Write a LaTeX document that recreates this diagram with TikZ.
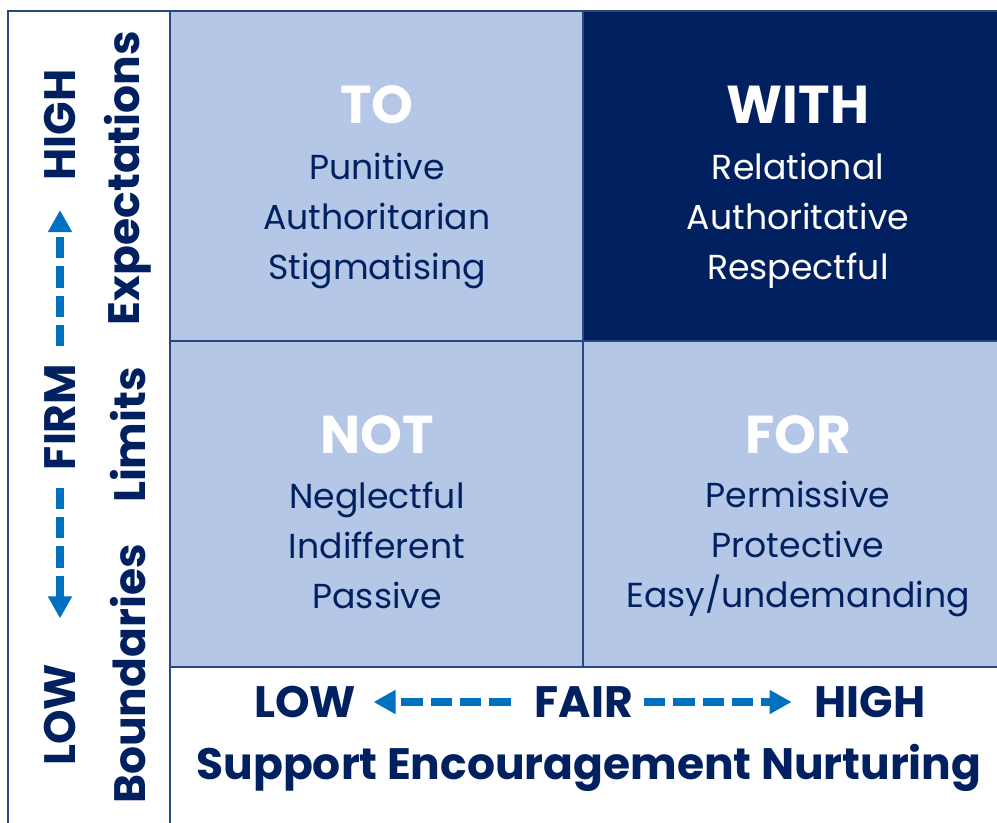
\documentclass[tikz,border=0pt]{standalone}
\usepackage{fontspec}
\setmainfont{Poppins}
\usetikzlibrary{arrows.meta}

\definecolor{navy}{HTML}{002060}
\definecolor{paleblue}{HTML}{B4C7E7}
\definecolor{arrowblue}{HTML}{0070C0}
\definecolor{gridline}{HTML}{2A4782}

\tikzset{
  quadtitle/.style={font=\bfseries\fontsize{40}{44}\selectfont, text=white},
  quadtext/.style={align=center, font=\fontsize{26}{37.5}\selectfont, text=navy},
  axislabel/.style={font=\bfseries\fontsize{33}{38}\selectfont, text=navy, inner sep=0pt},
  axisarrow/.style={draw=arrowblue, line width=6pt, dash pattern=on 16pt off 6pt,
    -{Triangle[length=16.5pt, width=17pt]}},
  gridrule/.style={draw=gridline, line width=1.1pt}
}

\begin{document}
\begin{tikzpicture}[x=0.75pt, y=-0.75pt]
        \useasboundingbox (0,0) rectangle (997,823);
        \clip (0,0) rectangle (997,823);

        % quadrants
        \fill[paleblue] (170,11) rectangle (583,341);
        \fill[navy] (583,11) rectangle (1030,341);
        \fill[paleblue] (170,341) rectangle (583,667);
        \fill[paleblue] (583,341) rectangle (1030,667);

        % frame and grid
        \draw[gridrule] (8,840) -- (8,11) -- (1030,11);
        \draw[gridrule] (170,11) -- (170,840);
        \draw[gridrule] (583,11) -- (583,667);
        \draw[gridrule] (170,341) -- (1030,341);
        \draw[gridrule] (170,667) -- (1030,667);

        \node[quadtitle] (to) at (377,105) {TO};
        \node[quadtext] (totext) at (377,221) {Punitive\\Authoritarian\\Stigmatising};
        \node[quadtitle] (with) at (798,105) {WITH};
        \node[quadtext, text=white] (withtext) at (798,221) {Relational\\Authoritative\\Respectful};
        \node[quadtitle] (not) at (377,435) {NOT};
        \node[quadtext] (nottext) at (377,545) {Neglectful\\Indifferent\\Passive};
        \node[quadtitle] (for) at (798,435) {FOR};
        \node[quadtext] (fortext) at (798,549) {Permissive\\Protective\\Easy/undemanding};

        %% vertical axis
        \node[axislabel, rotate=90] (yhigh) at (60,125) {HIGH};
        \node[axislabel, rotate=90] (yfirm) at (60,417) {FIRM};
        \node[axislabel, rotate=90] (ylow) at (60,715) {LOW};
        \node[axislabel, rotate=90] (expect) at (128,178) {Expectations};
        \node[axislabel, rotate=90] (limits) at (128,435) {Limits};
        \node[axislabel, rotate=90] (bounds) at (128,674) {Boundaries};

        \draw[axisarrow, shorten <=13pt, shorten >=22pt] (yfirm) -- (yhigh);
        \draw[axisarrow, shorten <=13pt, shorten >=34pt] (yfirm) -- (ylow);

        %% horizontal axis
        \node[axislabel] (xlow) at (305,702) {LOW};
        \node[axislabel] (xfair) at (584,702) {FAIR};
        \node[axislabel] (xhigh) at (870,702) {HIGH};
        \node[axislabel] (support) at (589,768) {Support Encouragement Nurturing};

        \draw[axisarrow, shorten <=18pt, shorten >=13pt] (xfair) -- (xlow);
        \draw[axisarrow, shorten <=8pt, shorten >=17pt] (xfair) -- (xhigh);
\end{tikzpicture}
\end{document}
